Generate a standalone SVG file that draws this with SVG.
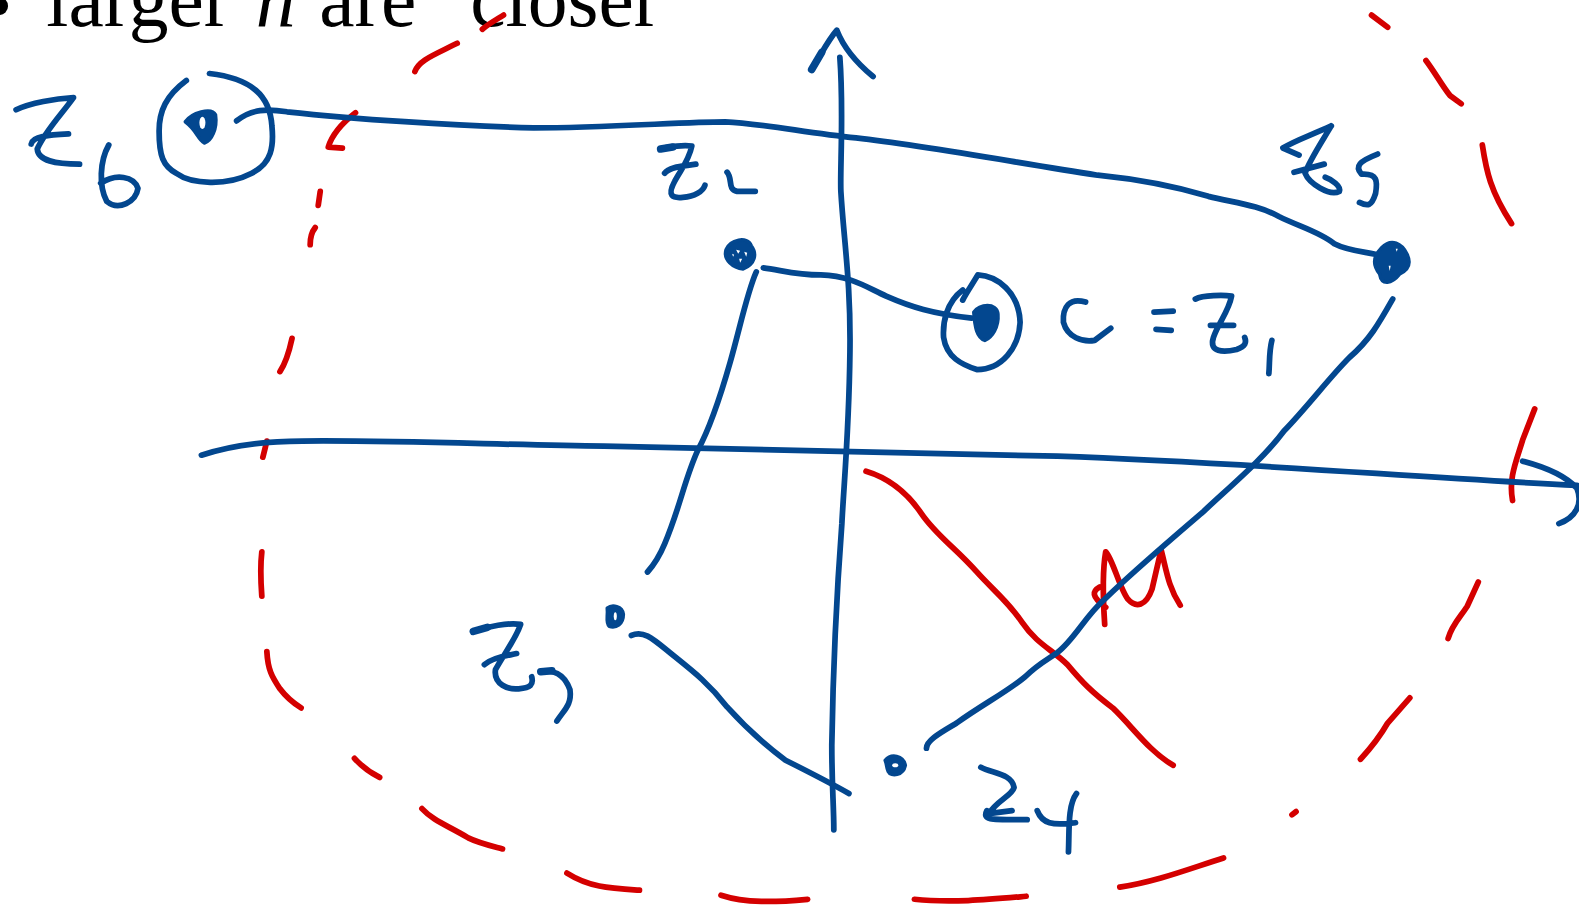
<svg xmlns="http://www.w3.org/2000/svg" width="1579" height="906" viewBox="0 0 1579 906">
<style>
.b{fill:none;stroke:#03478f;stroke-width:5.7;stroke-linecap:round;stroke-linejoin:round}
.r{fill:none;stroke:#d40000;stroke-width:5.7;stroke-linecap:round;stroke-linejoin:round}
.f{fill:#03478f;stroke:#03478f;stroke-width:3.5;stroke-linejoin:round}
.h{fill:#fff}
.t{font-family:"Liberation Serif","Times New Roman",serif;font-size:79px;fill:#000}
</style>
<rect width="1579" height="906" fill="#fff"/>
<g transform="scale(1.00702)">
<circle cx="-1" cy="6" r="9" fill="#000"/>
<text class="t" x="46" y="26">larger</text>
<text class="t" x="254" y="26" font-style="italic">n</text>
<text class="t" x="317" y="26">are</text>
<text class="t" x="467" y="26">closer</text>
<g id="boundary">
<path class="r" d="M412 71C416 60 430 55 454 43"/>
<path class="r" d="M479 29C485 24 492 20 500 15"/>
<path class="r" d="M353 112C340 122 330 133 326 146L340 147"/>
<path class="r" d="M318 190L316 204"/>
<path class="r" d="M313 226C309 231 308 237 308 243"/>
<path class="r" d="M290 336C287 350 284 360 278 369"/>
<path class="r" d="M265 438L261 454"/>
<path class="r" d="M260 548C258 565 259 578 260 592"/>
<path class="r" d="M265 647C266 665 270 672 278 684C284 692 291 698 299 703"/>
<path class="r" d="M352 753C360 762 367 767 377 772"/>
<path class="r" d="M419 803C430 815 445 820 465 832C475 837 488 840 499 843"/>
<path class="r" d="M563 867C585 881 605 882 635 884"/>
<path class="r" d="M716 889C740 897 770 896 802 893"/>
<path class="r" d="M908 893C945 897 985 893 1019 890"/>
<path class="r" d="M1112 881C1150 875 1180 863 1215 852"/>
<path class="r" d="M1283 809L1287 806"/>
<path class="r" d="M1351 754C1362 742 1370 732 1378 718L1400 693"/>
<path class="r" d="M1438 634C1442 620 1450 613 1457 602L1468 578"/>
<path class="r" d="M1502 497C1498 475 1505 460 1512 437L1524 406"/>
<path class="r" d="M1472 144C1476 170 1480 190 1501 222"/>
<path class="r" d="M1416 60C1425 72 1432 85 1440 95L1451 103"/>
<path class="r" d="M1362 15L1378 27"/>
</g>
<g id="radius">
<path class="r" d="M860 468C880 474 900 488 915 510C930 532 950 545 970 568C985 585 1000 596 1015 618C1030 640 1045 645 1060 660C1075 678 1085 688 1105 703C1125 722 1140 745 1165 760"/>
<path class="r" d="M1092 583C1085 587 1083 592 1098 603M1097 620C1095 590 1095 565 1098 548C1105 555 1112 585 1120 595C1128 604 1138 602 1144 585L1153 546C1158 565 1160 583 1172 601"/>
</g>
<g id="connectors">
<path class="b" d="M834 57C838 110 834 170 835 190C838 240 845 280 844 350C843 430 838 480 836 520C830 600 827 680 826 740C826 780 828 800 828 824"/>
<path class="b" d="M806 69C815 55 822 40 831 30C838 48 850 62 867 76"/>
<path class="b" style="stroke-width:7.5" d="M806 69L816 52"/>
<path class="b" d="M200 452C230 442 260 438 300 438C400 437 500 442 600 443C800 447 950 450 1050 453C1250 460 1400 474 1566 482"/>
<path class="b" d="M1512 458C1535 464 1555 473 1566 485C1572 500 1565 514 1548 520"/>
<path class="b" d="M235 120C250 108 265 108 285 111C350 118 450 125 530 127C600 127 680 121 720 121C760 123 800 132 850 137C920 145 1000 160 1090 174C1130 178 1170 186 1200 195C1230 202 1250 204 1270 215C1290 225 1310 230 1325 242C1340 250 1360 250 1372 254"/>
<path class="b" d="M1383 297C1370 320 1360 338 1340 355C1320 375 1300 402 1275 428C1255 455 1225 480 1195 508C1160 538 1120 572 1095 597C1078 612 1066 636 1050 648C1040 655 1030 660 1018 672C1000 687 975 700 950 718C935 727 920 735 920 743"/>
<path class="b" d="M758 266C775 268 790 273 815 273C845 274 860 285 880 294C905 305 925 311 965 316"/>
<path class="b" d="M751 270C742 290 735 325 725 360C715 395 705 425 693 447C680 475 675 505 660 540C655 552 650 560 643 568"/>
<path class="b" d="M627 631C640 625 650 636 670 652C690 668 705 680 722 702C740 722 760 740 780 755C800 765 820 775 843 788"/>
</g>
<g id="z6">
<path class="b" d="M185 80C165 95 158 110 158 130C158 155 162 165 175 172C190 183 225 185 250 172C270 162 272 145 270 125C268 95 250 78 208 73"/>
<path class="f" d="M184 121C190 112 210 106 214 114C216 128 210 140 203 142C196 138 196 130 184 121Z"/>
<ellipse class="h" cx="201" cy="122" rx="3" ry="6"/>
<path class="b" d="M16 109C30 102 55 98 73 97C60 115 45 130 37 148C38 160 55 163 79 163M31 143C32 135 50 134 68 133"/>
<path class="b" d="M108 144C99 160 98 185 106 200C118 210 135 200 137 187C133 175 115 172 100 182"/>
</g>
<g id="z2">
<path class="f" d="M721 248C725 238 742 234 746 244C752 252 750 262 738 267C728 266 718 258 721 248Z"/>
<path class="h" d="M731 248l4 1-2 3zM739 250l3 1-1 4zM734 257l3 0-2 4zM727 252l2 1-1 2z"/>
<path class="b" style="stroke-width:7.5" d="M656 148L668 146"/>
<path class="b" d="M656 148C665 145 680 144 687 145C684 160 675 170 670 180C662 195 668 197 678 196C690 195 698 190 700 184M660 172C665 165 680 165 691 163"/>
<path class="b" d="M722 171C728 178 722 188 732 190L750 190"/>
</g>
<g id="z1">
<path class="b" d="M956 298C960 290 967 280 971 273C990 274 1012 290 1013 320C1012 345 995 367 970 367C955 362 940 355 937 335C936 320 940 300 956 288"/>
<path class="f" d="M967 310C972 302 990 300 991 312C992 325 985 335 978 338C970 335 968 325 967 310Z"/>
<path class="b" d="M1078 300C1062 295 1055 305 1056 320C1060 335 1075 340 1087 338L1103 326"/>
<path class="b" d="M1146 310L1165 309M1148 327L1163 328"/>
<path class="b" d="M1187 297C1195 293 1215 293 1223 294C1220 310 1210 320 1205 335C1200 350 1215 350 1228 347C1237 344 1238 340 1236 335M1202 323L1225 323"/>
<path class="b" d="M1263 338C1260 350 1261 360 1260 371"/>
</g>
<g id="z5">
<path class="f" d="M1372 246C1382 236 1392 242 1397 252C1402 262 1398 268 1390 272C1382 282 1372 284 1370 272C1362 262 1364 254 1372 246Z"/>
<path class="h" d="M1379 264l2 0-1 5zM1386 247l2 0-1 3z"/>
<path class="b" d="M1322 125C1300 135 1285 140 1274 147L1290 154M1322 125C1310 145 1300 160 1296 172C1300 182 1320 195 1330 190C1332 185 1322 178 1316 176M1285 171L1315 163"/>
<path class="b" d="M1368 153C1350 160 1345 165 1352 173C1368 172 1368 180 1366 192C1362 205 1358 205 1350 201"/>
</g>
<g id="z7">
<path class="f" d="M603 604C608 600 618 602 619 610C619 620 612 624 605 622C601 618 604 612 603 604Z"/>
<ellipse class="h" cx="611" cy="612" rx="1.5" ry="4"/>
<path class="b" style="stroke-width:7.5" d="M470 627L484 623M537 667L548 666"/>
<path class="b" d="M470 627C485 622 505 618 517 620C512 635 500 650 492 665C490 680 505 685 515 684C527 683 530 680 528 672M481 660C490 652 505 651 513 649"/>
<path class="b" d="M537 667C548 665 560 668 566 685C568 700 560 705 553 716"/>
</g>
<g id="z4">
<path class="f" d="M879 755C885 748 897 750 899 760C897 770 885 772 882 766C880 762 881 760 879 755Z"/>
<ellipse class="h" cx="889" cy="760" rx="3" ry="2"/>
<path class="b" d="M974 762C985 768 1005 768 1007 782C1005 790 990 795 982 808L1005 805M980 805C975 815 985 814 1020 814"/>
<path class="b" d="M1030 805C1035 818 1045 820 1068 817M1069 788C1060 800 1062 825 1061 846"/>
</g>
</g>
</svg>
